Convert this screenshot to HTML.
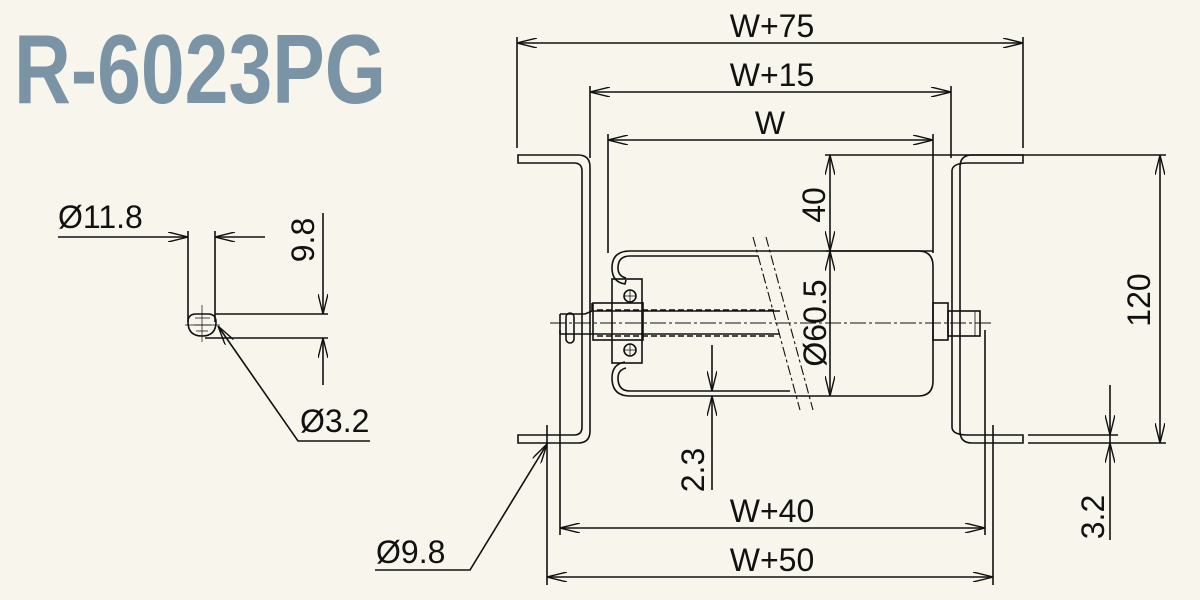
<!DOCTYPE html>
<html><head><meta charset="utf-8"><style>
html,body{margin:0;padding:0;background:#f7f5ec;}
svg{display:block}
text{font-family:"Liberation Sans",sans-serif;fill:#111;}
</style></head><body>
<svg width="1200" height="600" viewBox="0 0 1200 600" xmlns="http://www.w3.org/2000/svg">
<defs>
<marker id="a" viewBox="0 0 20 10" refX="20" refY="5" markerWidth="20" markerHeight="10" markerUnits="userSpaceOnUse" orient="auto-start-reverse">
<path d="M0,0 L20,5 L0,10" fill="none" stroke="#111" stroke-width="1.4"/></marker>
</defs>
<rect width="1200" height="600" fill="#f7f5ec"/>
<text x="14" y="103" font-size="98" font-weight="bold" textLength="372" lengthAdjust="spacingAndGlyphs" style="fill:#7a93a5">R-6023PG</text>

<g stroke="#111" stroke-width="1.6" fill="none">
<line x1="517" y1="43" x2="1023" y2="43" marker-start="url(#a)" marker-end="url(#a)"/>
<line x1="517" y1="37" x2="517" y2="148"/><line x1="1023" y1="37" x2="1023" y2="148"/>
<line x1="590" y1="92" x2="951" y2="92" marker-start="url(#a)" marker-end="url(#a)"/>
<line x1="590" y1="86" x2="590" y2="158"/><line x1="951" y1="86" x2="951" y2="158"/>
<line x1="608" y1="140" x2="933" y2="140" marker-start="url(#a)" marker-end="url(#a)"/>
<line x1="608" y1="134" x2="608" y2="253"/><line x1="933" y1="134" x2="933" y2="253"/>

<path d="M518,155 H578 Q590,155 590,167 V431 Q590,443 578,443 H518 V435 H574 Q582,435 582,427 V171 Q582,163 574,163 H518 Z"/>
<path d="M1023,155 H972 Q960,155 960,167 V431 Q960,443 972,443 H1023 V435 H968 Q952,435 952,427 V171 Q952,163 968,163 H1023 Z"/>

<path d="M760,251 H918 Q933,251 933,266 V381 Q933,396 918,396 H790"/>
<path d="M760,251 H630 Q612,251 612,268 Q612,282 625,284 L626,280"/>
<path d="M758,256 H630 Q618,256 618,268 Q618,276 626,278"/>
<path d="M790,396 H630 Q612,396 612,378 Q612,364 625,362"/>
<path d="M790,391 H630 Q618,391 618,378 Q618,370 626,368"/>
<rect x="612" y="279" width="30" height="84"/>
<circle cx="630" cy="296" r="6"/><circle cx="630" cy="350" r="6"/>
<path d="M624,296 h12 M630,290 v12 M624,350 h12 M630,344 v12" stroke-width="0.8"/>
<rect x="593" y="303" width="50" height="37"/>
<path d="M560,314 H585 L592,311 H780 M560,334 H780 M560,314 V334"/>
<path d="M592,311 V303" />
<path d="M597,310 H775 M597,336 H775" stroke-dasharray="6,3"/>
<rect x="566" y="313" width="8" height="30" rx="4"/>
<rect x="933" y="303" width="15" height="37"/>
<rect x="948" y="311" width="32" height="25"/>
<line x1="975" y1="311" x2="975" y2="336" stroke-width="0.8"/>
<line x1="550" y1="323" x2="993" y2="323" stroke-dasharray="16,3,3,3" stroke-width="1"/>
<line x1="753" y1="237" x2="800" y2="410" stroke-dasharray="10,3,3,3" stroke-width="1.1"/>
<line x1="766" y1="237" x2="813" y2="410" stroke-dasharray="10,3,3,3" stroke-width="1.1"/>

<line x1="825" y1="155" x2="1166" y2="155"/>
<line x1="830" y1="155" x2="830" y2="251" marker-start="url(#a)" marker-end="url(#a)"/>
<line x1="830" y1="251" x2="830" y2="396" marker-start="url(#a)" marker-end="url(#a)"/>
<line x1="826" y1="251" x2="933" y2="251"/>
<line x1="1160" y1="155" x2="1160" y2="443" marker-start="url(#a)" marker-end="url(#a)"/>
<line x1="1028" y1="443" x2="1166" y2="443"/>
<line x1="1028" y1="435" x2="1118" y2="435"/>
<line x1="1110" y1="385" x2="1110" y2="435" marker-end="url(#a)"/>
<line x1="1110" y1="540" x2="1110" y2="443" marker-end="url(#a)"/>
<line x1="1110" y1="435" x2="1110" y2="443"/>
<line x1="712" y1="345" x2="712" y2="391" marker-end="url(#a)"/>
<line x1="712" y1="490" x2="712" y2="396" marker-end="url(#a)"/>
<line x1="560" y1="330" x2="560" y2="535"/><line x1="985" y1="330" x2="985" y2="535"/>
<line x1="547" y1="425" x2="547" y2="585"/><line x1="993" y1="425" x2="993" y2="585"/>
<line x1="560" y1="528" x2="985" y2="528" marker-start="url(#a)" marker-end="url(#a)"/>
<line x1="547" y1="577" x2="993" y2="577" marker-start="url(#a)" marker-end="url(#a)"/>
<polyline points="375,570 470,570 547,444" marker-end="url(#a)"/>

<line x1="58" y1="237" x2="188" y2="237" marker-end="url(#a)"/>
<line x1="265" y1="237" x2="215" y2="237" marker-end="url(#a)"/>
<line x1="188" y1="231" x2="188" y2="322"/><line x1="215" y1="231" x2="215" y2="322"/>
<path d="M196,314 H208 Q216,314 216,322 Q216,336 202,336 Q188,336 188,322 Q188,314 196,314 Z"/>
<path d="M195,318 H210 M194,325 H211 M196,331 H208" stroke-width="0.8"/>
<path d="M202,305 V342 M185,325 H220" stroke-width="0.7"/>
<line x1="215" y1="314" x2="328" y2="314"/><line x1="205" y1="338" x2="328" y2="338"/>
<line x1="323" y1="213" x2="323" y2="314" marker-end="url(#a)"/>
<line x1="323" y1="385" x2="323" y2="338" marker-end="url(#a)"/>
<polyline points="370,441 298,441 218,326" marker-end="url(#a)"/>
</g>

<g font-size="32">
<text x="772" y="37" text-anchor="middle">W+75</text>
<text x="772" y="86" text-anchor="middle">W+15</text>
<text x="770" y="134" text-anchor="middle">W</text>
<text x="772" y="522" text-anchor="middle">W+40</text>
<text x="772" y="571" text-anchor="middle">W+50</text>
<text x="58" y="228">Ø11.8</text>
<text x="300" y="432">Ø3.2</text>
<text x="376" y="563">Ø9.8</text>
<text transform="translate(825,205) rotate(-90)" text-anchor="middle">40</text>
<text transform="translate(826,323) rotate(-90)" text-anchor="middle">Ø60.5</text>
<text transform="translate(1150,300) rotate(-90)" text-anchor="middle">120</text>
<text transform="translate(704,470) rotate(-90)" text-anchor="middle">2.3</text>
<text transform="translate(1104,517) rotate(-90)" text-anchor="middle">3.2</text>
<text transform="translate(314,240) rotate(-90)" text-anchor="middle">9.8</text>
</g>
</svg>
</body></html>
